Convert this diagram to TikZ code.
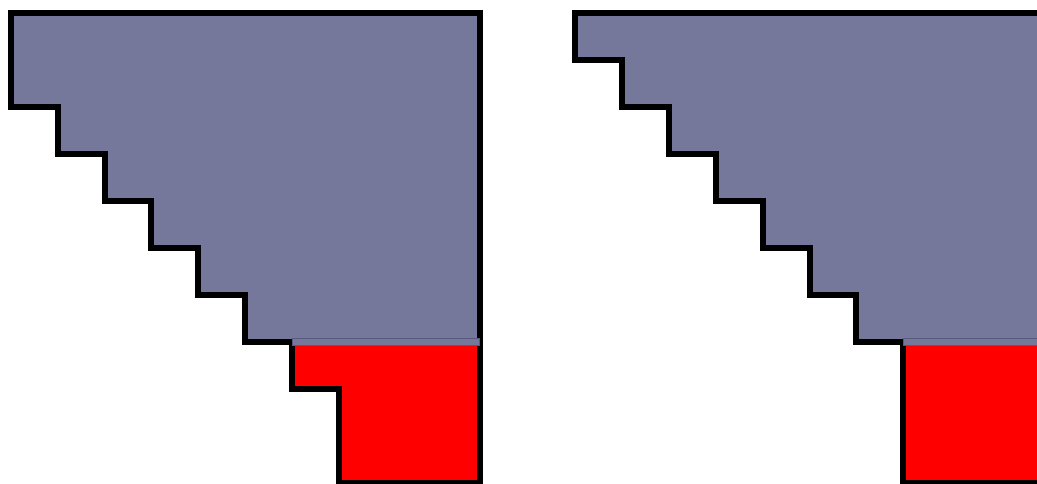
\documentclass[tikz,border=0pt]{standalone}
\definecolor{slate}{RGB}{118,120,155}
\definecolor{slateedge}{RGB}{88,90,125}
\begin{document}
\begin{tikzpicture}[x=1pt,y=-1pt,
  outline/.style={draw=black,line width=6pt,line join=miter},
  bluearea/.style={outline,fill=slate},
  redarea/.style={outline,fill=red},
  seam/.style={fill=slate,draw=slateedge,line width=0.8pt}]
\useasboundingbox (0,0) rectangle (1037,484);
\clip (0,0) rectangle (1037,484);
% left figure
\begin{scope}[shift={(10.7,13.5)},x=46.9pt,y=-46.9pt]
  \path[bluearea] (0,0) -- (10,0) -- (10,7) -- (5,7) -- (5,6) -- (4,6) -- (4,5) -- (3,5) -- (3,4)
    -- (2,4) -- (2,3) -- (1,3) -- (1,2) -- (0,2) -- cycle;
  \path[redarea] (6,7) -- (10,7) -- (10,10) -- (7,10) -- (7,8) -- (6,8) -- cycle;
  \path[seam] (6,6.93) rectangle (10,7.07);
\end{scope}
% right figure
\begin{scope}[shift={(575,13.5)},x=46.9pt,y=-46.9pt]
  \path[bluearea] (0,0) -- (10,0) -- (10,7) -- (6,7) -- (6,6) -- (5,6) -- (5,5) -- (4,5) -- (4,4)
    -- (3,4) -- (3,3) -- (2,3) -- (2,2) -- (1,2) -- (1,1) -- (0,1) -- cycle;
  \path[redarea] (7,7) -- (10,7) -- (10,10) -- (7,10) -- cycle;
  \path[seam] (7,6.93) rectangle (10,7.07);
\end{scope}
\end{tikzpicture}
\end{document}
